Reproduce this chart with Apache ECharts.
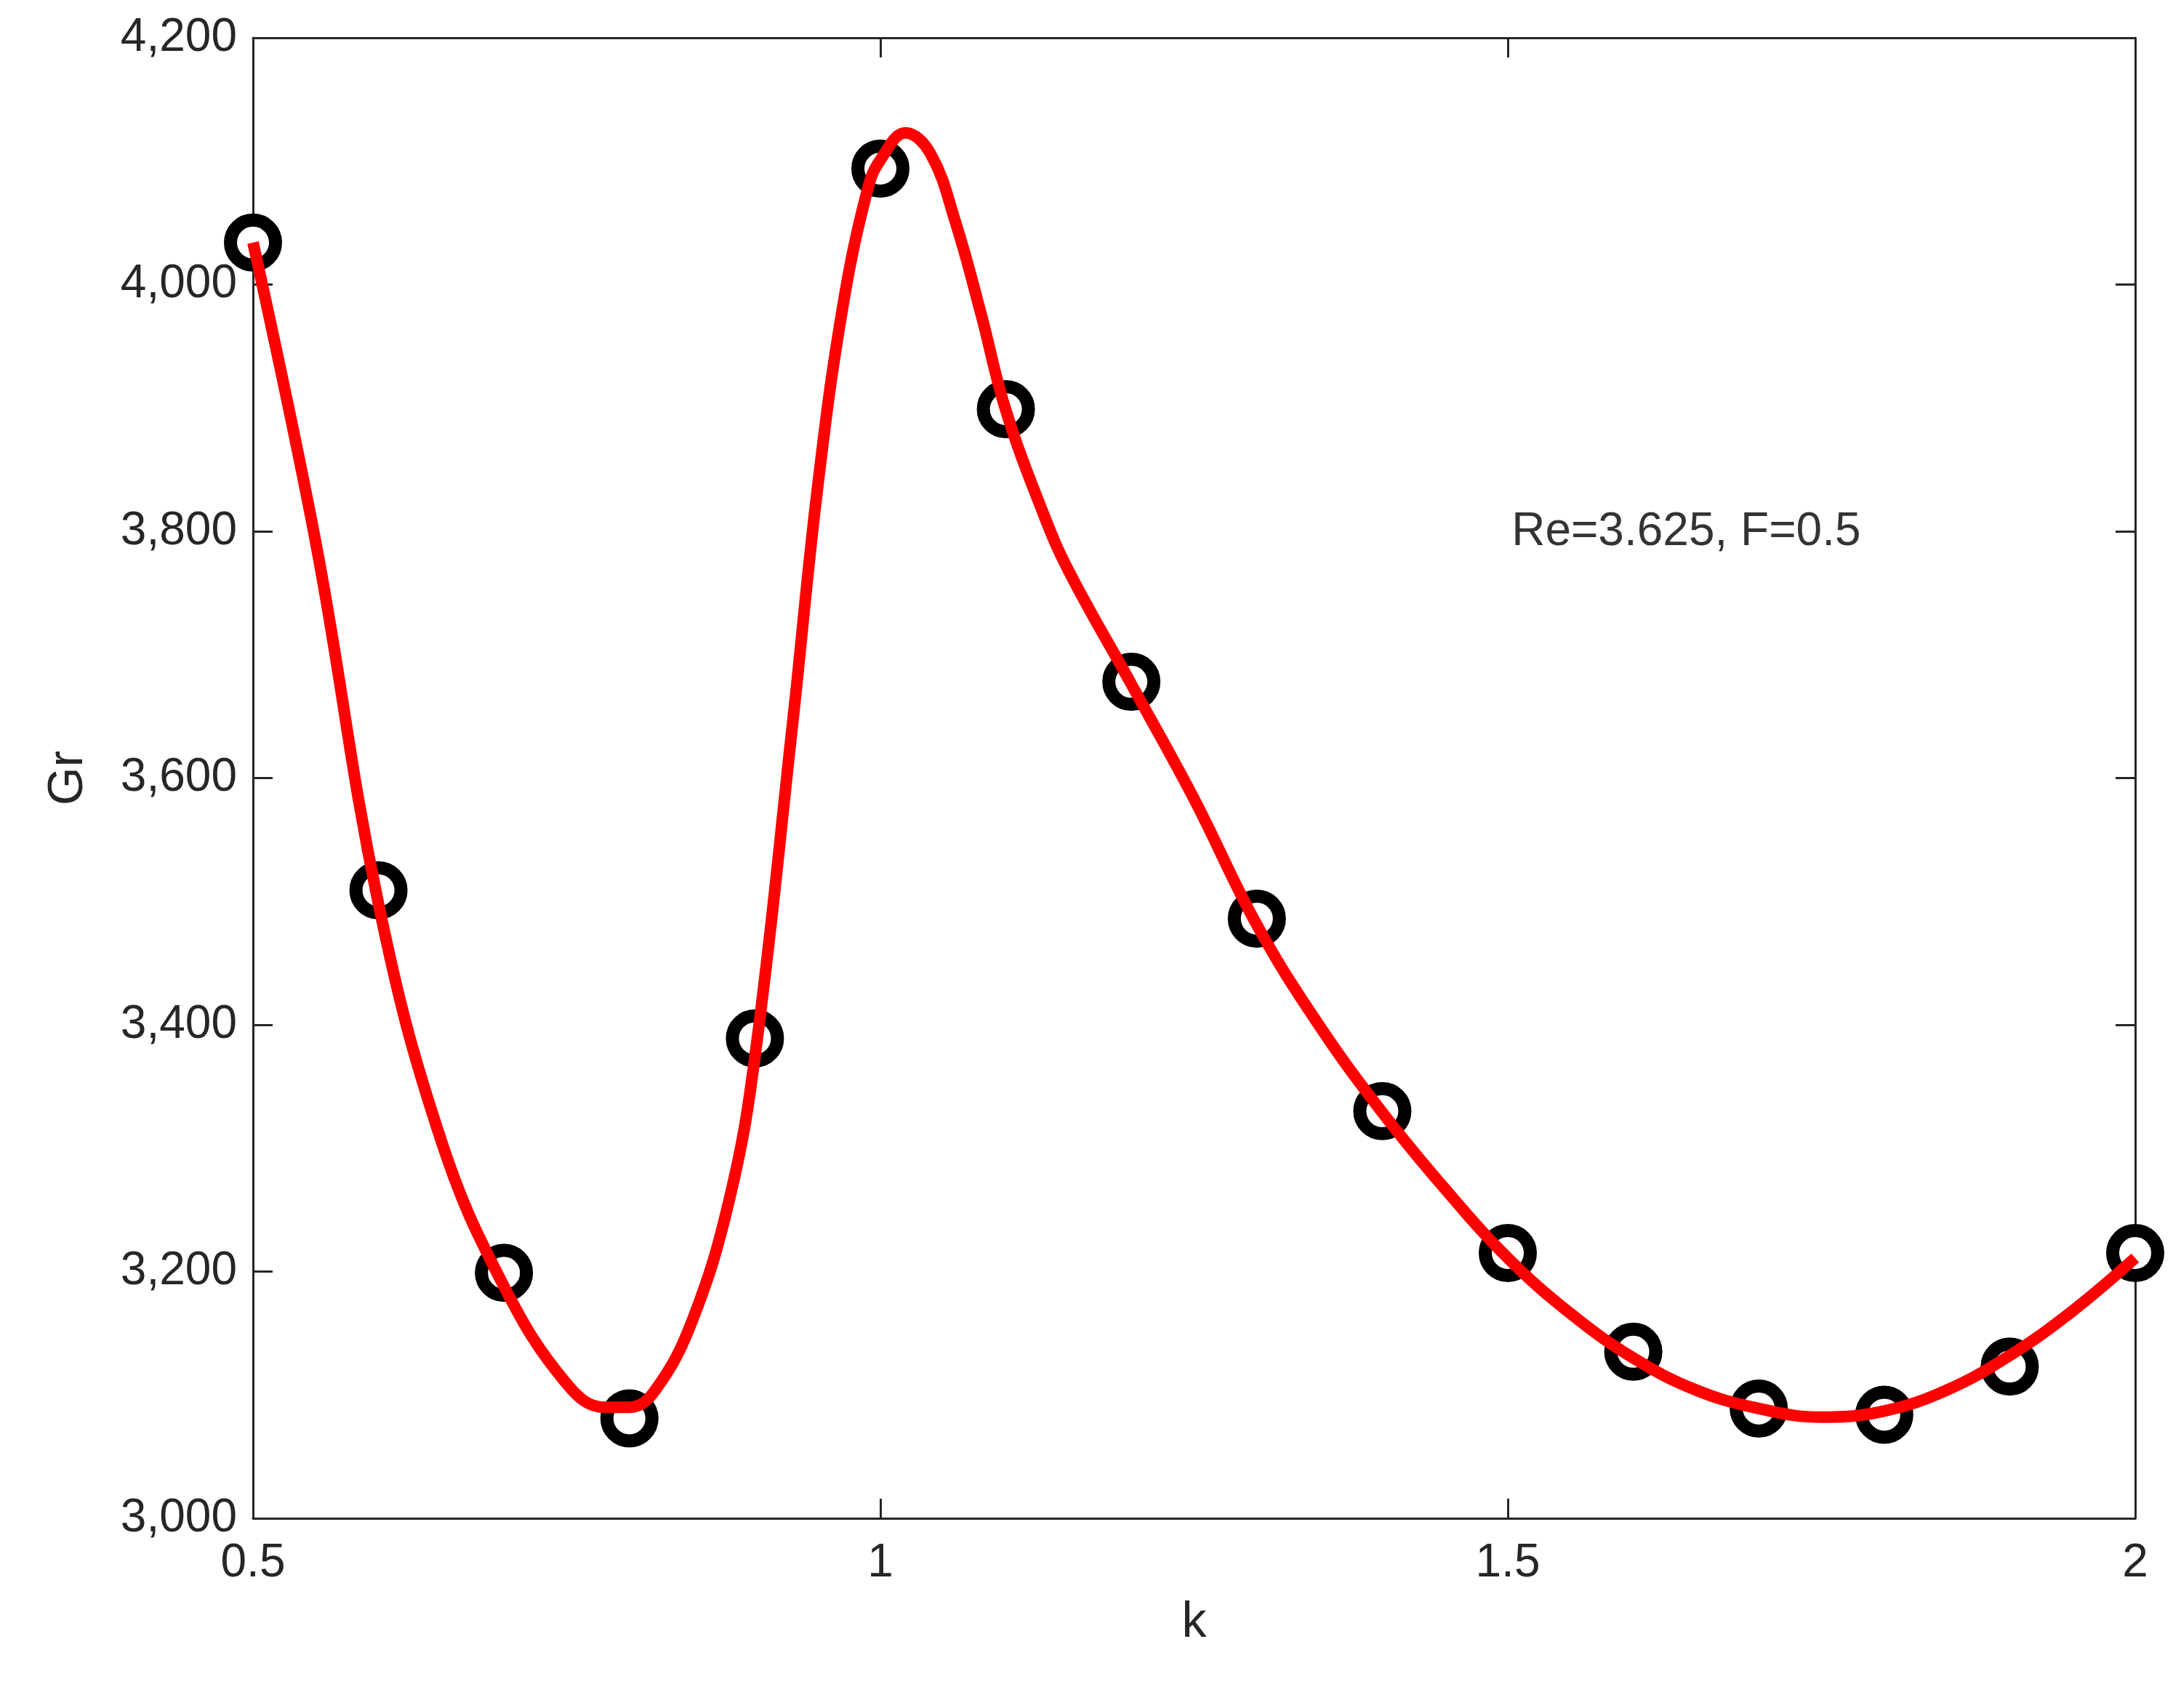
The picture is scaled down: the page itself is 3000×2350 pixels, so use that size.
<!DOCTYPE html>
<html>
<head>
<meta charset="utf-8">
<script src="https://cdn.jsdelivr.net/npm/echarts@6/dist/echarts.min.js"></script>
<style>html,body{margin:0;background:#fff}#c{width:3000px;height:2350px}</style>
</head>
<body>
<div id="c"></div>
<script>
var pointK = [0.5,0.6,0.7,0.8,0.9,1.0,1.1,1.2,1.3,1.4,1.5,1.6,1.7,1.8,1.9,2.0];
var pointGr = [4034,3509,3199,3081,3389,4094,3899,3678,3486,3330,3215,3135,3089,3084,3123,3215];
var curveK = [0.5,0.55,0.6,0.65,0.7,0.75,0.78,0.8,0.82,0.85,0.88,0.9,0.93,0.95,0.97,0.99,1.0,1.02,1.04,1.06,1.08,1.1,1.13,1.15,1.2,1.25,1.3,1.35,1.4,1.45,1.5,1.55,1.6,1.65,1.7,1.75,1.8,1.85,1.9,1.95,2.0];
var curveGr = [4034,3791,3498,3306,3188,3109,3090,3090,3103,3160,3260,3374,3644,3836,3982,4078,4101,4123,4106,4050,3977,3898,3814,3768,3676,3583,3481,3399,3329,3267,3211,3166,3130,3104,3089,3082,3087,3104,3132,3168,3211];
var xTicks = [0.5,1,1.5,2];
var yTicks = [3000,3200,3400,3600,3800,4000,4200];

var font = 'Liberation Sans';
var axisCol = '#262626';
var chart = echarts.init(document.getElementById('c'));
function ax(type, pos, show, extra) {
  var o = {
    type: 'value', position: pos,
    axisLine: {show: true, onZero: false, lineStyle: {color: axisCol, width: 3}},
    axisTick: {show: true, inside: true, length: 27, lineStyle: {color: axisCol, width: 3}},
    axisLabel: {show: show, fontSize: 64, fontFamily: font, color: axisCol, margin: 22},
    splitLine: {show: false}
  };
  return Object.assign(o, extra);
}
chart.setOption({
  animation: false,
  grid: {left: 348, right: 63, top: 52, bottom: 261},
  xAxis: [
    ax('value', 'bottom', true, {min: 0.5, max: 2, interval: 0.5, name: 'k', nameLocation: 'middle', nameGap: 110,
      nameTextStyle: {fontSize: 68, fontFamily: font, color: axisCol},
      axisLabel: {show: true, fontSize: 64, fontFamily: font, color: axisCol, margin: 30, formatter: function (v) { return String(v); }}}),
    ax('value', 'top', false, {min: 0.5, max: 2, interval: 0.5})
  ],
  yAxis: [
    ax('value', 'left', true, {min: 3000, max: 4200, interval: 200, name: 'Gr', nameLocation: 'middle', nameGap: 220,
      nameTextStyle: {fontSize: 68, fontFamily: font, color: axisCol}}),
    ax('value', 'right', false, {min: 3000, max: 4200, interval: 200})
  ],
  series: [
    {type: 'scatter', z: 2, symbol: 'circle', symbolSize: 62,
      itemStyle: {color: '#fff', borderColor: '#000', borderWidth: 18, opacity: 1},
      data: pointK.map(function (k, i) { return [k, pointGr[i]]; })},
    {type: 'line', z: 3, smooth: 0.4, showSymbol: false, lineStyle: {color: '#ff0000', width: 16},
      data: curveK.map(function (k, i) { return [k, curveGr[i]]; })},
    {type: 'scatter', z: 4, symbolSize: 0, silent: true,
      label: {show: true, position: 'right', distance: 0, formatter: 'Re=3.625, F=0.5', fontSize: 64, fontFamily: font, color: '#000'},
      data: [[1.503, 3799]]}
  ]
});
</script>
</body>
</html>
